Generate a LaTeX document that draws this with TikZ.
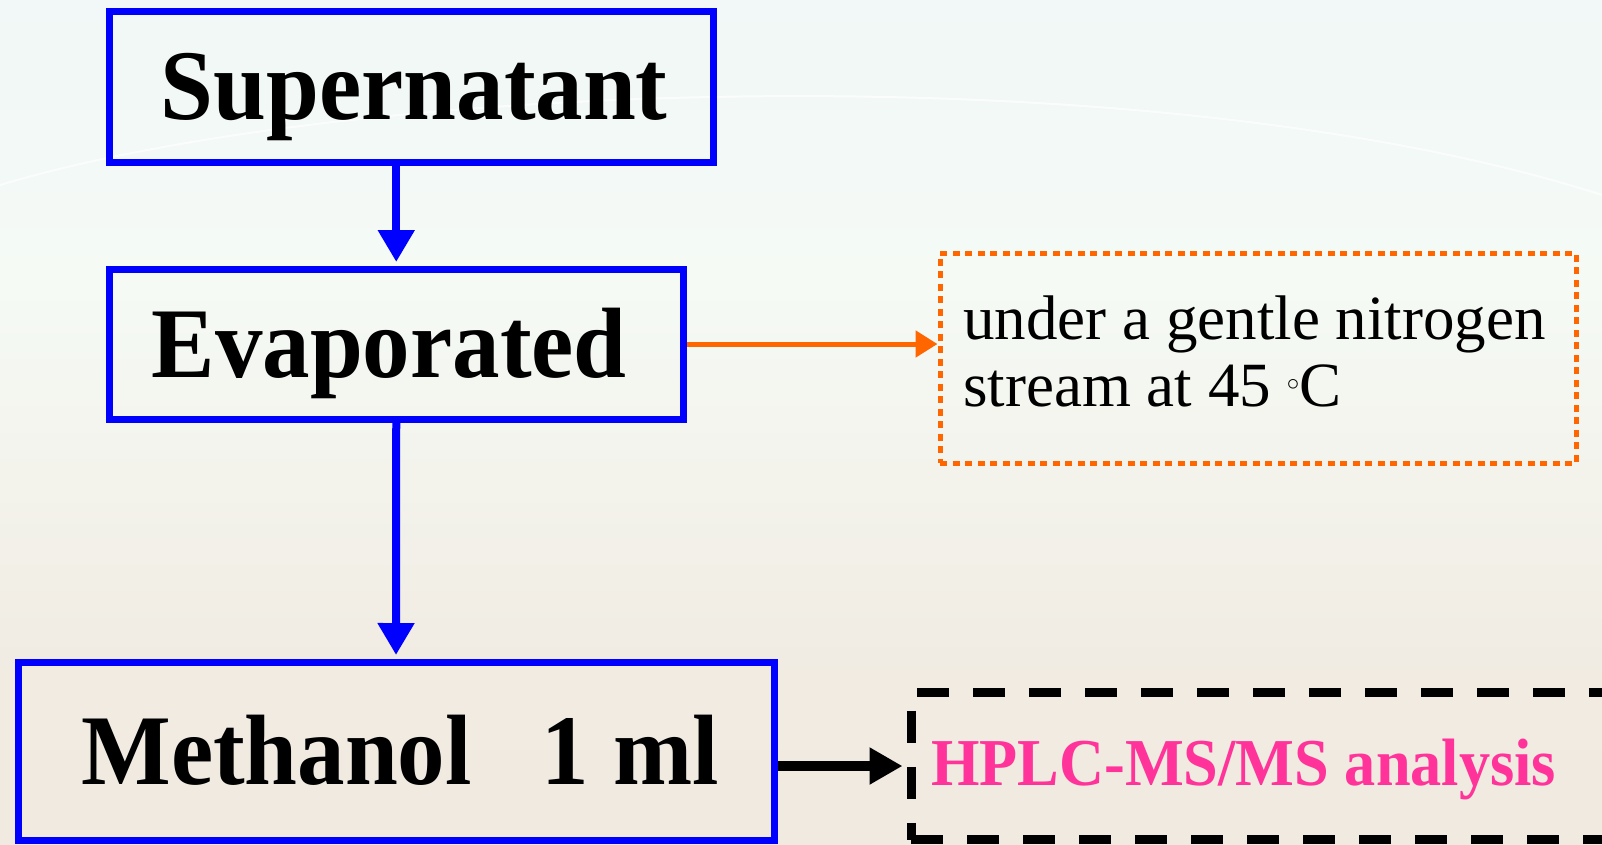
\documentclass[tikz,border=0pt]{standalone}
\usepackage{fontspec}
\setmainfont{Liberation Serif}
\newfontfamily\bigbold[FakeStretch=0.95]{Liberation Serif}
\newfontfamily\pinkbold[FakeStretch=0.93]{Liberation Serif}
\usetikzlibrary{arrows.meta,calc}
\definecolor{boxblue}{RGB}{0,0,255}
\definecolor{arrorange}{RGB}{255,102,0}
\definecolor{hplcpink}{RGB}{255,51,153}
\definecolor{bgtop}{RGB}{234,244,249}
\definecolor{bgmid}{RGB}{245,250,245}
\definecolor{bgbot}{RGB}{239,229,218}
\pgfdeclareverticalshading{bgshade}{100bp}{color(0bp)=(bgbot); color(35bp)=(bgbot!70!bgmid); color(58bp)=(bgmid); color(100bp)=(bgtop)}
\begin{document}
\begin{tikzpicture}[x=1pt,y=-1pt,
  stepbox/.style={draw=boxblue, line width=7pt, inner sep=0pt, text height=66pt, text depth=0pt,
    font={\bigbold\bfseries\fontsize{100}{110}\selectfont}},
  bluearrow/.style={draw=boxblue, line width=8pt, -{Triangle[length=32pt,width=35pt]}, shorten >=3.5pt},
  orangearrow/.style={draw=arrorange, line width=5pt, -{Triangle[length=22pt,width=26pt]}},
  blackarrow/.style={draw=black, line width=10pt, -{Triangle[length=33pt,width=35pt]}, shorten >=4pt},
  condbox/.style={draw=arrorange, line width=5pt, dash pattern=on 7pt off 5.5pt, inner sep=0pt},
  hplcbox/.style={draw=black, line width=9pt, dash pattern=on 32pt off 24pt, inner sep=0pt},
  condtext/.style={align=left, inner sep=0pt, font={\fontsize{63}{67}\selectfont}},
  hplctext/.style={text=hplcpink, inner sep=0pt, font={\pinkbold\bfseries\fontsize{67}{72}\selectfont}}
]
\useasboundingbox (0,0) rectangle (1602,844);
\clip (0,0) rectangle (1602,844);
\shade[shading=bgshade] (0,0) rectangle (1602,844);
\draw[white, opacity=0.7, line width=2pt] (0,185) .. controls (350,80) and (1150,50) .. (1602,195);

\node[stepbox, minimum width=603.5pt, minimum height=151pt] (sup) at (411.25,86.5) {Supernatant\hspace*{-6pt}};
\node[stepbox, minimum width=573.5pt, minimum height=150pt] (evap) at (396.25,344) {Evaporated\hspace*{14pt}};
\node[stepbox, minimum width=756pt, minimum height=178pt] (meth) at (396,751) {\hspace*{8pt}Methanol\hspace{70pt}1 ml};

\node[condbox, minimum width=636pt, minimum height=210pt] (cond) at (1258,358) {};
\node[condtext, anchor=base west] (condtxt) at (963,406) {under a gentle nitrogen\\stream at 45 \raisebox{6pt}{$^{\circ}$}C};

\node[hplcbox, minimum width=729pt, minimum height=147.5pt] (hplc) at (1275.5,766) {};
\node[hplctext, anchor=base west] (hplctxt) at (931,785) {HPLC-MS/MS analysis};

\draw[bluearrow] (evap.north |- sup.south) -- (evap.north);
\draw[bluearrow] (evap.south) -- (meth.north);
\draw[orangearrow] (evap.east) -- (evap.east -| cond.west);
\draw[blackarrow] (meth.east |- hplc.west) -- (hplc.west);
\end{tikzpicture}
\end{document}
